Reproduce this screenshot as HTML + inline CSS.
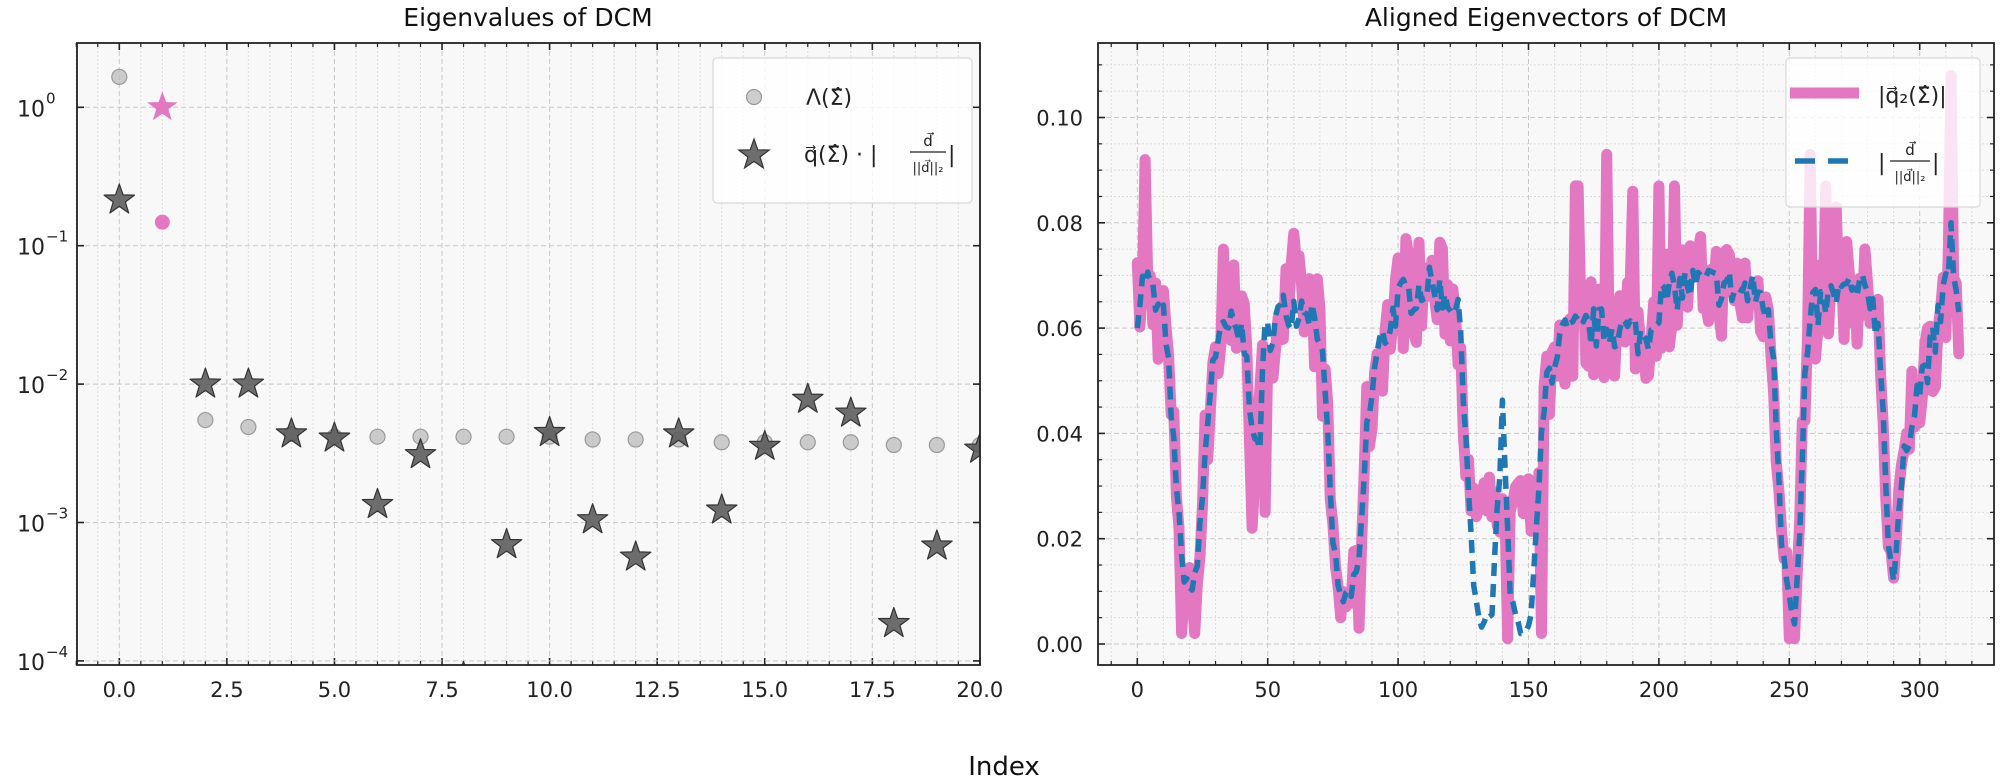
<!DOCTYPE html>
<html><head><meta charset="utf-8">
<style>
html,body{margin:0;padding:0;background:#fff;}
svg{display:block;font-family:"DejaVu Sans","Liberation Sans",sans-serif;}
</style></head>
<body>
<svg id="s" width="2003" height="783" viewBox="0 0 2003 783" xmlns="http://www.w3.org/2000/svg">
<rect width="2003" height="783" fill="#fff"/>
<g id="L"></g>
<g id="R"></g>
<text x="528" y="26" font-size="25" text-anchor="middle" fill="#111">Eigenvalues of DCM</text>
<text x="1546" y="26" font-size="25" text-anchor="middle" fill="#111">Aligned Eigenvectors of DCM</text>
<text x="1004" y="775" font-size="26" text-anchor="middle" fill="#111">Index</text>
</svg>
<script>
const NS="http://www.w3.org/2000/svg";
function el(p,t,a,txt){const e=document.createElementNS(NS,t);for(const k in a)e.setAttribute(k,a[k]);if(txt!==undefined)e.textContent=txt;p.appendChild(e);return e;}
const L=document.getElementById('L'),R=document.getElementById('R');

/* ---------- LEFT ---------- */
const lx0=77,lx1=980,ly0=43,ly1=665;
const px=i=>119.3+43.03*i, py=l=>107.3-138.4*l;
el(L,'rect',{x:lx0,y:ly0,width:lx1-lx0,height:ly1-ly0,fill:'#f8f8f8'});
const cpl=el(L,'clipPath',{id:'cl'});el(cpl,'rect',{x:lx0,y:ly0,width:lx1-lx0,height:ly1-ly0});
for(let v=-1;v<=20.01;v+=0.5){const x=px(v);const maj=Math.abs(v/2.5-Math.round(v/2.5))<1e-6;
 el(L,'line',{x1:x,x2:x,y1:ly0,y2:ly1,stroke:maj?'#c8c8c8':'#dcdcdc','stroke-width':1,'stroke-dasharray':maj?'5,3':'2,2'});
 const tl=maj?7:4; el(L,'line',{x1:x,x2:x,y1:ly1,y2:ly1-tl,stroke:'#222','stroke-width':maj?1.6:1.2});
 el(L,'line',{x1:x,x2:x,y1:ly0,y2:ly0+tl,stroke:'#222','stroke-width':maj?1.6:1.2});
 if(maj&&v>=0) el(L,'text',{x:x,y:697,'font-size':21,'text-anchor':'middle',fill:'#222'},v.toFixed(1));
}
for(let d=0;d>=-4;d--){const y=py(d);
 el(L,'line',{x1:lx0,x2:lx1,y1:y,y2:y,stroke:'#c8c8c8','stroke-width':1,'stroke-dasharray':'5,3'});
 el(L,'line',{x1:lx0,x2:lx0+7,y1:y,y2:y,stroke:'#222','stroke-width':1.6});
 el(L,'line',{x1:lx1,x2:lx1-7,y1:y,y2:y,stroke:'#222','stroke-width':1.6});
 el(L,'text',{x:45,y:y+9,'font-size':22,'text-anchor':'end',fill:'#222'},'10');
 el(L,'text',{x:46,y:y-4,'font-size':15,fill:'#222'},d===0?'0':'−'+(-d));
}
const circ=[0.22,-0.83,-2.26,-2.31,-2.36,-2.38,-2.38,-2.38,-2.38,-2.38,-2.38,-2.4,-2.4,-2.4,-2.42,-2.42,-2.42,-2.42,-2.44,-2.44,-2.44];
const star=[-0.67,0,-2.0,-2.0,-2.36,-2.39,-2.87,-2.51,-4.12,-3.16,-2.35,-2.98,-3.25,-2.36,-2.91,-2.45,-2.11,-2.21,-3.73,-3.17,-2.47];
function starPts(cx,cy,R){let p=[];for(let k=0;k<10;k++){const r=k%2?R*0.4:R;const a=-Math.PI/2+k*Math.PI/5;p.push((cx+r*Math.cos(a)).toFixed(1)+','+(cy+r*Math.sin(a)).toFixed(1));}return p.join(' ');}
const gL=el(L,'g',{'clip-path':'url(#cl)'});
circ.forEach((v,i)=>{if(i===1)el(gL,'circle',{cx:px(i),cy:py(v),r:7.5,fill:'#e377c2'});else el(gL,'circle',{cx:px(i),cy:py(v),r:7.5,fill:'#b8b8b8','fill-opacity':0.7,stroke:'#999','stroke-width':1.2});});
star.forEach((v,i)=>{if(i===1)el(gL,'polygon',{points:starPts(px(i),py(v),16),fill:'#e377c2'});else el(gL,'polygon',{points:starPts(px(i),py(v),16),fill:'#555','fill-opacity':0.85,stroke:'#333','stroke-width':1.2,'stroke-linejoin':'round'});});
el(L,'rect',{x:lx0,y:ly0,width:lx1-lx0,height:ly1-ly0,fill:'none',stroke:'#222','stroke-width':1.8});
el(L,'rect',{x:713,y:58,width:259,height:145,rx:4,fill:'#fff','fill-opacity':0.8,stroke:'#d8d8d8','stroke-width':1.2});
el(L,'circle',{cx:754,cy:97,r:7.5,fill:'#b8b8b8','fill-opacity':0.7,stroke:'#999','stroke-width':1.2});
el(L,'text',{x:806,y:105,'font-size':22,fill:'#222'},'Λ(Σ̂)');
el(L,'polygon',{points:starPts(754,155,16),fill:'#555','fill-opacity':0.85,stroke:'#333','stroke-width':1.2});
el(L,'text',{x:804,y:162,'font-size':22,fill:'#222'},'q⃗(Σ̂) · |');
el(L,'text',{x:928,y:146,'font-size':15,fill:'#222','text-anchor':'middle'},'d⃗');
el(L,'line',{x1:910,x2:946,y1:152,y2:152,stroke:'#222','stroke-width':1.2});
el(L,'text',{x:928,y:172,'font-size':13,fill:'#222','text-anchor':'middle'},'||d⃗||₂');
el(L,'text',{x:948,y:162,'font-size':22,fill:'#222'},'|');

/* ---------- RIGHT ---------- */
const rx0=1098,rx1=1994,ry0=43,ry1=665;
const qx=i=>1137.3+2.608*i, qy=v=>644-5265*v;
el(R,'rect',{x:rx0,y:ry0,width:rx1-rx0,height:ry1-ry0,fill:'#f8f8f8'});
const cp=el(R,'clipPath',{id:'cr'});el(cp,'rect',{x:rx0,y:ry0,width:rx1-rx0,height:ry1-ry0});
for(let v=-10;v<=330;v+=10){const x=qx(v);if(x<rx0||x>rx1)continue;const maj=v%50===0;
 el(R,'line',{x1:x,x2:x,y1:ry0,y2:ry1,stroke:maj?'#c8c8c8':'#dcdcdc','stroke-dasharray':maj?'5,3':'2,2'});
 const tl=maj?7:4;
 el(R,'line',{x1:x,x2:x,y1:ry1,y2:ry1-tl,stroke:'#222','stroke-width':maj?1.6:1.2});
 el(R,'line',{x1:x,x2:x,y1:ry0,y2:ry0+tl,stroke:'#222','stroke-width':maj?1.6:1.2});
 if(maj&&v>=0&&v<=300)el(R,'text',{x:x,y:697,'font-size':21,'text-anchor':'middle',fill:'#222'},String(v));
}
for(let k=-1;k<=23;k++){const v=k*0.005;const y=qy(v);if(y<ry0||y>ry1)continue;const maj=k%4===0;
 el(R,'line',{x1:rx0,x2:rx1,y1:y,y2:y,stroke:maj?'#c8c8c8':'#dcdcdc','stroke-dasharray':maj?'5,3':'2,2'});
 const tl=maj?7:4;
 el(R,'line',{x1:rx0,x2:rx0+tl,y1:y,y2:y,stroke:'#222','stroke-width':maj?1.6:1.2});
 el(R,'line',{x1:rx1,x2:rx1-tl,y1:y,y2:y,stroke:'#222','stroke-width':maj?1.6:1.2});
 if(maj)el(R,'text',{x:1083,y:y+8,'font-size':21,'text-anchor':'end',fill:'#222'},v.toFixed(2));
}
const kp=[[0,0.064],[3,0.07],[8,0.063],[11,0.06],[13,0.042],[15,0.03],[18,0.012],[20,0.01],[23,0.015],[26,0.035],[29,0.055],[35,0.06],[42,0.058],[44,0.037],[47,0.04],[49,0.058],[55,0.063],[65,0.065],[70,0.06],[72,0.045],[75,0.02],[78,0.008],[82,0.01],[85,0.015],[88,0.04],[92,0.055],[100,0.065],[110,0.068],[120,0.066],[124,0.06],[126,0.04],[129,0.01],[132,0.003],[136,0.006],[140,0.043],[143,0.01],[147,0.003],[151,0.005],[154,0.03],[157,0.05],[162,0.058],[175,0.06],[185,0.06],[195,0.058],[200,0.065],[210,0.068],[225,0.068],[240,0.066],[244,0.055],[247,0.02],[250,0.01],[252,0.004],[254,0.02],[256,0.05],[259,0.063],[270,0.067],[282,0.066],[285,0.055],[288,0.02],[290,0.012],[293,0.03],[297,0.045],[302,0.052],[306,0.058],[310,0.068],[312,0.078],[314,0.065],[315,0.062]];
function base(i){for(let j=0;j<kp.length-1;j++){const a=kp[j],b=kp[j+1];if(i>=a[0]&&i<=b[0])return a[1]+(b[1]-a[1])*(i-a[0])/(b[0]-a[0]);}return 0.062;}
let seed=7;const rnd=()=>{seed=(seed*16807)%2147483647;return seed/2147483647;};
const blue=[],pink=[];
const spikes={3:0.092,60:0.078,103:0.077,180:0.093,168:0.087,169:0.087,190:0.086,200:0.087,206:0.087,258:0.093,264:0.087,268:0.083,312:0.108,33:0.075,37:0.072};
const dips={17:0.002,22:0.002,78:0.005,85:0.003,250:0.001,252:0.001,142:0.001,155:0.002,44:0.022,49:0.025};
for(let i=0;i<=315;i++){const b=base(i);let bv=b+(rnd()-0.5)*0.008*(b>0.03?1:0.4);if(bv<0.002)bv=0.002;blue.push(bv);
 let pv=b+(rnd()-0.5)*0.02*(b>0.03?1:0.6);
 if(i>=128&&i<=153)pv=0.02+rnd()*0.012;
 if(spikes[i])pv=spikes[i];if(dips[i]!==undefined)pv=dips[i];if(pv<0.001)pv=0.001;pink.push(pv);}
const pts=a=>a.map((v,i)=>qx(i).toFixed(1)+','+qy(v).toFixed(1)).join(' ');
const gR=el(R,'g',{'clip-path':'url(#cr)'});
el(gR,'polyline',{points:pts(pink),fill:'none',stroke:'#e377c2','stroke-width':11,'stroke-linejoin':'round','stroke-linecap':'round'});
el(gR,'polyline',{points:pts(blue),fill:'none',stroke:'#1f77b4','stroke-width':5.5,'stroke-dasharray':'13,8','stroke-linejoin':'round'});
el(R,'rect',{x:rx0,y:ry0,width:rx1-rx0,height:ry1-ry0,fill:'none',stroke:'#222','stroke-width':1.8});
el(R,'rect',{x:1786,y:58,width:194,height:149,rx:4,fill:'#fff','fill-opacity':0.8,stroke:'#d8d8d8','stroke-width':1.2});
el(R,'line',{x1:1790,x2:1859,y1:93,y2:93,stroke:'#e377c2','stroke-width':11});
el(R,'text',{x:1878,y:103,'font-size':22,fill:'#222'},'|q⃗₂(Σ̂)|');
el(R,'line',{x1:1795,x2:1848,y1:161,y2:161,stroke:'#1f77b4','stroke-width':5.5,'stroke-dasharray':'20,13'});
el(R,'text',{x:1878,y:170,'font-size':22,fill:'#222'},'|');
el(R,'text',{x:1910,y:155,'font-size':15,fill:'#222','text-anchor':'middle'},'d⃗');
el(R,'line',{x1:1890,x2:1930,y1:161,y2:161,stroke:'#222','stroke-width':1.2});
el(R,'text',{x:1910,y:181,'font-size':13,fill:'#222','text-anchor':'middle'},'||d⃗||₂');
el(R,'text',{x:1932,y:170,'font-size':22,fill:'#222'},'|');
</script>
</body></html>
